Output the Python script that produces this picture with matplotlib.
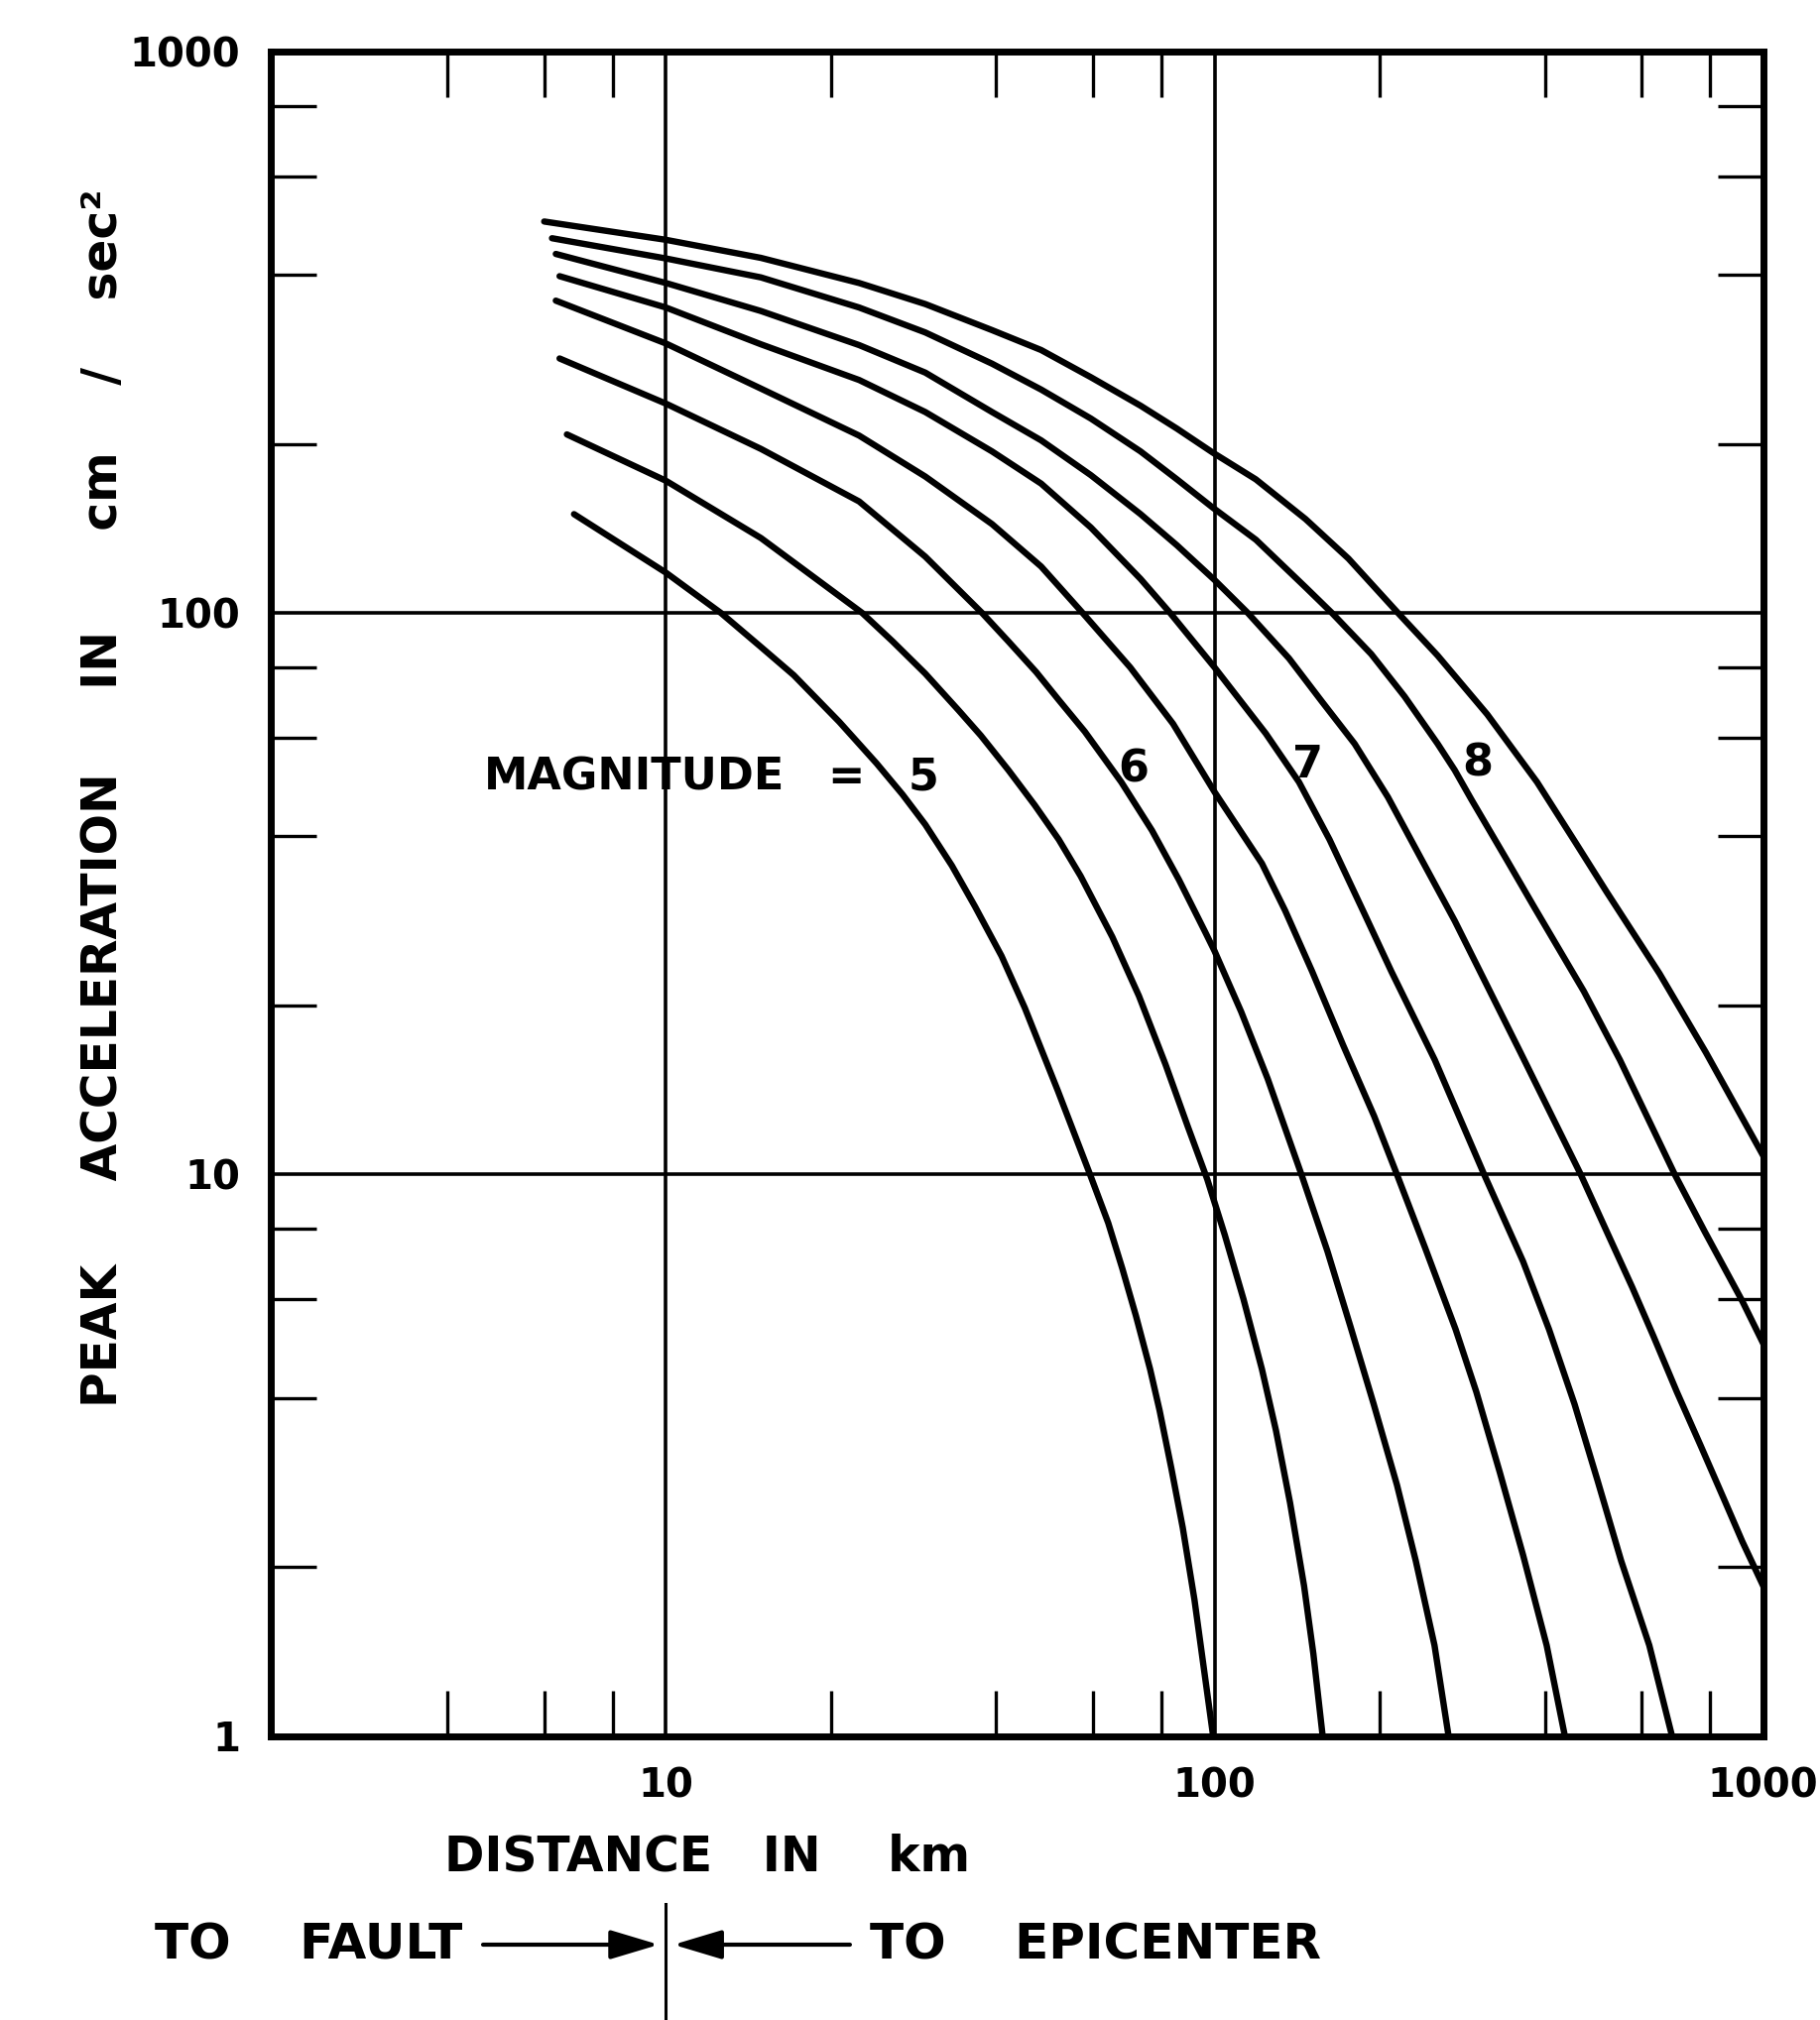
import matplotlib.pyplot as plt
from matplotlib.ticker import FixedLocator, NullFormatter
from matplotlib.lines import Line2D

plt.rcParams['font.family'] = 'DejaVu Sans'

# Curvas de atenuacao, magnitude 5 a 8.5 de meio em meio
# distancia em km, aceleracao de pico em cm/sec2
dist_50 = [6.8, 10, 12.6, 14.9, 17.1, 20.7, 24.2, 27.0, 29.7, 33.2, 36.6, 40.9, 45.1, 51.8,
           59.3, 64, 67.9, 71.9, 76.3, 79.4, 83.4, 87.5, 91.9, 95.6, 99.4]
acc_50 = [150, 118, 100, 87, 77.5, 64, 54, 47.5, 42, 35.5, 30, 24.5, 19.8, 14.1,
          10, 8.2, 6.8, 5.6, 4.5, 3.8, 3.0, 2.35, 1.75, 1.32, 1.0]

dist_55 = [6.6, 10, 14.9, 22.8, 25.9, 29.7, 34.2, 37.5, 42.1, 47, 52, 57, 65.1, 72.8, 81.4,
           89.3, 97, 104.4, 112.9, 122, 129.4, 137.3, 145.6, 151.4, 157.4]
acc_55 = [208, 172, 136, 100, 89, 78, 67, 60.5, 52.5, 45.5, 39.5, 34, 26.5, 20.8, 15.7,
          12.2, 9.8, 7.8, 6.0, 4.5, 3.5, 2.6, 1.85, 1.4, 1.0]

dist_60 = [6.4, 10, 14.9, 22.5, 29.7, 37.7, 42.1, 47.3, 52, 58, 67.6, 76.9, 86.1, 96.2, 100,
           111.8, 125, 144, 160.6, 177, 195, 215, 232.7, 251.7, 267]
acc_60 = [284, 236, 196, 158, 126, 100, 89, 78.5, 70, 61.5, 50, 41, 33.5, 27, 25,
          19.5, 14.8, 10, 7.3, 5.35, 3.9, 2.8, 2.05, 1.45, 1.0]

dist_65 = [6.3, 10, 14.9, 22.5, 29.7, 39.3, 48.3, 57.5, 70.2, 84, 100, 122, 134.5, 150.6,
           171.5, 195.4, 215, 242, 275, 300, 331, 365, 403, 435]
acc_65 = [360, 302, 251, 207, 175, 144, 121, 100, 80, 63.5, 48, 35.8, 29.5, 23,
          17, 12.7, 10, 7.4, 5.3, 4.1, 2.95, 2.1, 1.45, 1.0]

dist_70 = [6.4, 10, 14.9, 22.5, 29.7, 39.3, 48.3, 59.5, 73.3, 83, 100, 124, 142.5, 162, 188,
           210, 252, 310, 365, 407, 453, 499, 551, 620, 682]
acc_70 = [398, 350, 301, 260, 228, 194, 170, 142, 115, 100, 80, 61, 50, 39.5, 29,
          23, 16, 10, 7.0, 5.3, 3.9, 2.85, 2.05, 1.45, 1.0]

dist_75 = [6.3, 10, 14.9, 22.5, 29.7, 39.3, 48.3, 59.5, 73.3, 85.4, 100, 115, 136.7, 157,
           180, 207, 238, 274, 361, 465, 519, 577, 631, 696, 768, 847, 916, 1000]
acc_75 = [436, 387, 345, 300, 268, 228, 203, 176, 150, 132, 114.5, 100, 83, 69.5,
          58.5, 47, 36.5, 28.3, 16.5, 10, 7.9, 6.3, 5.15, 4.1, 3.3, 2.65, 2.22, 1.85]

dist_80 = [6.2, 10, 14.9, 22.5, 29.7, 39.3, 48.3, 59.5, 73.3, 85.4, 99.3, 119, 146.7, 163.7,
           193, 222, 255, 274, 294, 340, 382, 471, 548, 690, 783, 865, 916, 1000]
acc_80 = [465, 428, 396, 350, 316, 278, 250, 222, 194, 173, 154, 135, 111, 100,
          84.5, 71, 58.5, 52.5, 46.5, 36.5, 30, 21.2, 16, 10, 7.9, 6.6, 5.95, 5.0]

dist_85 = [6.0, 10, 14.9, 22.5, 29.7, 39.3, 48.3, 59.5, 73.3, 85.4, 99.3, 118.9, 146.5, 175.4,
           216, 255, 314, 387, 455, 519, 647, 786, 1000]
acc_85 = [498, 462, 429, 387, 355, 319, 294, 263, 234, 213, 193, 173, 147, 125,
          100, 84, 66, 50, 39, 31.8, 22.8, 16.5, 10.8]

curvas = [(dist_50, acc_50), (dist_55, acc_55), (dist_60, acc_60), (dist_65, acc_65),
          (dist_70, acc_70), (dist_75, acc_75), (dist_80, acc_80), (dist_85, acc_85)]

xticks = [10, 100, 1000]
xticklabels = ['10', '100', '1000']
yticks = [1, 10, 100, 1000]
yticklabels = ['1', '10', '100', '1000']
xminor = [4, 6, 8, 20, 40, 60, 80, 200, 400, 600, 800]
yminor = [2, 4, 6, 8, 20, 40, 60, 80, 200, 400, 600, 800]

# Figura
fig = plt.figure(figsize=(18.35, 20.37), dpi=100)
ax = fig.add_axes([0.1488, 0.1406, 0.8200, 0.8339])
ax.set_xscale('log')
ax.set_yscale('log')

for d, a in curvas:
    ax.plot(d, a, color='black', lw=4.6, solid_capstyle='round', solid_joinstyle='round')

for v in [10, 100]:
    ax.axvline(v, color='black', lw=2.6)
    ax.axhline(v, color='black', lw=2.6)

ax.set_xlim(1.905, 1000)
ax.set_ylim(1, 1000)

ax.set_xticks(xticks)
ax.set_xticklabels(xticklabels, fontweight='bold')
ax.set_yticks(yticks)
ax.set_yticklabels(yticklabels, fontweight='bold')
ax.xaxis.set_minor_locator(FixedLocator(xminor))
ax.yaxis.set_minor_locator(FixedLocator(yminor))
ax.xaxis.set_minor_formatter(NullFormatter())
ax.yaxis.set_minor_formatter(NullFormatter())
ax.tick_params(which='both', direction='in', top=True, right=True)
ax.tick_params(which='major', length=0, pad=22, labelsize=29)
ax.tick_params(which='minor', length=33, width=2.4)
for s in ax.spines.values():
    s.set_linewidth(5)

# Rotulos das magnitudes
fs = 32
ax.text(16.5, 51, 'MAGNITUDE', ha='right', va='center', fontsize=fs, fontweight='bold')
ax.text(21.3, 51, '=', ha='center', va='center', fontsize=fs, fontweight='bold')
ax.text(29.5, 51, '5', ha='center', va='center', fontsize=fs, fontweight='bold')
ax.text(71, 52.7, '6', ha='center', va='center', fontsize=fs, fontweight='bold')
ax.text(148, 53.5, '7', ha='center', va='center', fontsize=fs, fontweight='bold')
ax.text(302, 54, '8', ha='center', va='center', fontsize=fs, fontweight='bold')

# Eixos
fig.text(0.0567, 0.6048, 'PEAK     ACCELERATION     IN      cm    /    sec²', rotation=90,
         ha='center', va='center', fontsize=35, fontweight='bold')
fig.text(0.244, 0.0807, 'DISTANCE   IN    km', ha='left', va='center', fontsize=35,
         fontweight='bold')

# Legenda inferior
fig.text(0.085, 0.0373, 'TO    FAULT', ha='left', va='center', fontsize=36, fontweight='bold')
fig.text(0.478, 0.0373, 'TO    EPICENTER', ha='left', va='center', fontsize=36, fontweight='bold')
seta = dict(arrowstyle='-|>,head_length=1.5,head_width=0.45', color='black', lw=3,
            mutation_scale=20, shrinkA=0, shrinkB=0)
ax.annotate('', xy=(0.3620, 0.0373), xytext=(0.2654, 0.0373), xycoords='figure fraction',
            arrowprops=seta)
ax.annotate('', xy=(0.3700, 0.0373), xytext=(0.467, 0.0373), xycoords='figure fraction',
            arrowprops=seta)
fig.add_artist(Line2D([0.3659, 0.3659], [0.0, 0.0574], color='black', lw=2.2))

plt.savefig('out.png')
